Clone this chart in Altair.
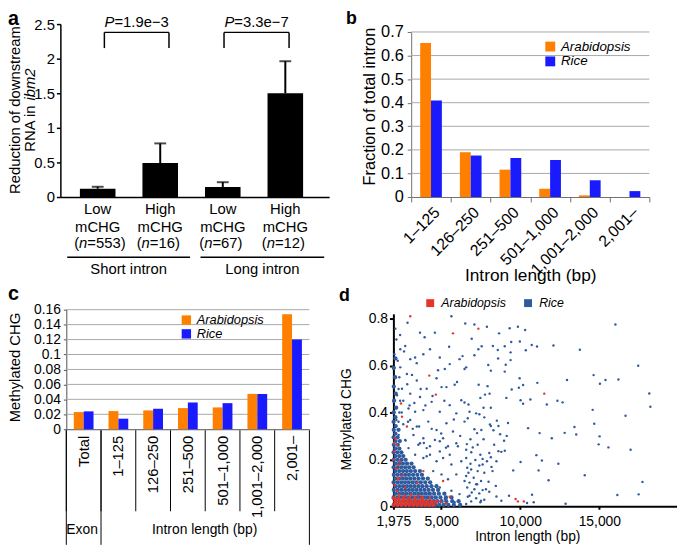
import altair as alt
import pandas as pd

FONT = "Liberation Sans"
W, H = 677, 547
ORANGE = "#FF8000"
BLUE = "#1A1AFF"
RED_D = "#E5352B"
BLUE_D = "#2F5A9E"
SPECIES = ["Arabidopsis", "Rice"]

# ---------------- panel a data ----------------
A_POS = [1, 2, 3, 4]
A_LEVEL = ["Low", "High", "Low", "High"]
A_N = [553, 16, 67, 12]
A_VALUE = [0.12, 0.49, 0.143, 1.50]
A_ERR = [0.028, 0.285, 0.071, 0.463]
A_PVAL = ["1.9e\u22123", "3.3e\u22127"]
A_BR_LEFT = [1.107, 3.02]
A_BR_RIGHT = [2.14, 4.06]
A_BR_TOP = 2.38
A_BR_BOTTOM = 2.153
A_GROUPS = ["Short intron", "Long intron"]
A_GROUP_START = [0.513, 2.644]
A_GROUP_END = [2.476, 4.622]
A_TICKS = [0, 0.5, 1, 1.5, 2, 2.5]

# ---------------- panel b data ----------------
B_CATS = ["1\u2013125", "126\u2013250", "251\u2013500", "501\u20131,000", "1,001\u20132,000", "2,001\u2013"]
B_ARAB = [0.653, 0.19, 0.116, 0.035, 0.007, 0.0]
B_RICE = [0.409, 0.176, 0.165, 0.157, 0.071, 0.025]
B_TICKS = [0, 0.1, 0.2, 0.3, 0.4, 0.5, 0.6, 0.7]

# ---------------- panel c data ----------------
C_CATS = ["Total", "1\u2013125", "126\u2013250", "251\u2013500", "501\u20131,000", "1,001\u20132,000", "2,001\u2013"]
C_ARAB = [0.023, 0.0243, 0.0252, 0.0283, 0.0292, 0.0473, 0.154]
C_RICE = [0.0239, 0.0141, 0.0274, 0.0358, 0.0349, 0.0473, 0.120]
C_TICKS = [0, 0.02, 0.04, 0.06, 0.08, 0.1, 0.12, 0.14, 0.16]

# ---------------- panel d data ----------------
D_XTICKS = [1975, 5000, 10000, 15000]
D_YTICKS = [0, 0.2, 0.4, 0.6, 0.8]

RICE_POINTS = [
    (16020, 0.775), (13770, 0.667), (17460, 0.599), (12960, 0.538), (14640, 0.559), (15040, 0.522),
    (15390, 0.538), (16210, 0.540), (18160, 0.481), (18230, 0.424), (12680, 0.443), (14580, 0.411),
    (16660, 0.386), (14680, 0.352), (13430, 0.338), (12810, 0.313), (13540, 0.306), (15020, 0.298),
    (14960, 0.264), (15580, 0.251), (16980, 0.241), (12410, 0.181), (14080, 0.132), (17730, 0.104),
    (16140, 0.048), (17490, 0.051), (12870, 0.011),
    (7100, 0.775), (7890, 0.765), (8660, 0.737), (9330, 0.759), (9850, 0.765), (10310, 0.751),
    (6930, 0.714), (9430, 0.700), (9975, 0.702), (10725, 0.687), (11060, 0.681), (12100, 0.685),
    (7560, 0.682), (7350, 0.669), (8270, 0.683), (8580, 0.666), (9020, 0.682), (10350, 0.665),
    (9390, 0.656), (7100, 0.644), (8600, 0.630), (9390, 0.623), (7975, 0.602), (9080, 0.603),
    (6580, 0.592), (8140, 0.578), (9020, 0.574), (9960, 0.546), (7370, 0.518), (7930, 0.512),
    (10180, 0.517), (11080, 0.526), (9910, 0.505), (9460, 0.498), (7770, 0.476), (8060, 0.480),
    (7475, 0.462), (9120, 0.462), (10020, 0.452), (10640, 0.455), (11680, 0.434), (12350, 0.450),
    (6475, 0.442), (6725, 0.434), (7680, 0.420), (8140, 0.420), (10180, 0.437), (6790, 0.403),
    (7210, 0.396), (7415, 0.392), (6680, 0.375), (7725, 0.379), (8520, 0.365), (9225, 0.355),
    (8080, 0.349), (8140, 0.342), (10495, 0.333), (7100, 0.328), (7540, 0.325), (8305, 0.324),
    (8620, 0.342), (11995, 0.290), (11225, 0.312), (9145, 0.300), (8725, 0.307), (7270, 0.312),
    (6850, 0.286), (7680, 0.286), (8975, 0.279), (6620, 0.265), (8350, 0.262), (6995, 0.251),
    (8620, 0.235), (8805, 0.232), (9020, 0.237), (7475, 0.220), (11020, 0.218), (8140, 0.209),
    (7620, 0.202), (7160, 0.197), (7895, 0.192), (8495, 0.192), (10020, 0.189), (11370, 0.195),
    (6850, 0.181), (7410, 0.174), (8180, 0.168), (6645, 0.164), (7305, 0.150), (9555, 0.153),
    (11160, 0.153), (6725, 0.143), (7725, 0.143), (6580, 0.129), (7055, 0.122), (7520, 0.108),
    (7995, 0.105), (11790, 0.111), (6790, 0.101), (7270, 0.094), (8455, 0.087), (6645, 0.080),
    (7100, 0.073), (7620, 0.069), (6930, 0.059), (7410, 0.055), (8040, 0.062), (8495, 0.042),
    (9290, 0.045), (10745, 0.049), (6680, 0.041), (7210, 0.034), (7725, 0.028), (10430, 0.014),
    (8805, 0.024), (6895, 0.021), (7475, 0.017), (10850, 0.017),
    (5645, 0.810), (2870, 0.782), (2100, 0.757), (3660, 0.740), (4600, 0.740), (6520, 0.779),
    (2165, 0.711), (2410, 0.669), (2040, 0.648), (2725, 0.683), (3350, 0.634), (3040, 0.627),
    (3870, 0.648), (4290, 0.669), (4910, 0.634), (5225, 0.585), (5540, 0.606), (6160, 0.627),
    (6475, 0.585), (2410, 0.592), (2830, 0.564), (1990, 0.585), (3455, 0.536), (4705, 0.546),
    (5020, 0.508), (5330, 0.508), (5850, 0.518), (4080, 0.501), (2520, 0.501), (3040, 0.480),
    (3660, 0.466), (2205, 0.473), (4395, 0.445), (5540, 0.431), (6270, 0.452), (1995, 0.445),
    (2930, 0.417), (3350, 0.403), (3870, 0.410), (4910, 0.403), (5955, 0.396), (2165, 0.368),
    (3040, 0.368), (4180, 0.361), (5330, 0.354), (6475, 0.361), (3455, 0.340), (4705, 0.325),
    (5745, 0.319), (1990, 0.325), (2305, 0.304), (3245, 0.304), (3870, 0.290), (5120, 0.290),
    (2725, 0.283), (3555, 0.262), (4290, 0.256), (6055, 0.256), (2930, 0.248), (4910, 0.234),
    (2520, 0.227), (3350, 0.220), (4080, 0.213), (5540, 0.220), (6580, 0.206),
    (4910, 0.277), (5430, 0.256), (5955, 0.269), (6580, 0.241), (7305, 0.262), (8040, 0.227),
    (4290, 0.220), (4705, 0.192), (5120, 0.206), (5645, 0.178), (6270, 0.192), (6895, 0.157),
    (7620, 0.178), (8245, 0.150), (4495, 0.150), (5020, 0.136), (5430, 0.115), (5955, 0.136),
    (6475, 0.108), (7210, 0.094), (7830, 0.073), (4910, 0.080), (5645, 0.066), (6160, 0.052),
    (6790, 0.045), (7520, 0.024), (4290, 0.052), (5225, 0.031), (5850, 0.017), (6580, 0.010),
    (3870, 0.206), (4080, 0.248), (3660, 0.269), (4600, 0.283),
    (3150, 0.56), (3700, 0.50), (4450, 0.47), (5200, 0.45), (3300, 0.44), (4000, 0.43),
    (5800, 0.37), (2900, 0.36), (3600, 0.34), (4400, 0.33), (5000, 0.31), (6200, 0.30),
    (2750, 0.28), (3900, 0.27), (5300, 0.25), (6900, 0.23), (2850, 0.52), (4800, 0.58),
    (3450, 0.61), (2650, 0.66), (5500, 0.68), (6000, 0.53), (3950, 0.72), (2400, 0.73),
    (6350, 0.64), (2600, 0.45), (2500, 0.40), (3000, 0.43), (3200, 0.33), (2600, 0.35),
    (2300, 0.36), (2350, 0.40), (2400, 0.45), (2300, 0.50), (2350, 0.55), (2250, 0.62),
]

# dense mass of rice introns near the axis corner: {methylation level: [intron lengths]}
RICE_DENSE = {
    0.006: [2000, 2240, 2480, 2720, 2960, 3200, 3440, 3680, 3920, 4160, 4400, 4640, 4880, 5150, 5450, 5800, 6200],
    0.022: [2110, 2350, 2590, 2830, 3070, 3310, 3550, 3790, 4030, 4270, 4510, 4760, 5020, 5320, 5700, 6100],
    0.038: [1990, 2230, 2470, 2710, 2950, 3190, 3430, 3670, 3910, 4150, 4400, 4660, 4950, 5300, 5650],
    0.054: [2100, 2340, 2580, 2820, 3060, 3300, 3540, 3780, 4030, 4280, 4550, 4850, 5200],
    0.070: [2000, 2240, 2480, 2720, 2960, 3200, 3440, 3690, 3940, 4200, 4480, 4800],
    0.086: [2110, 2350, 2590, 2830, 3070, 3310, 3560, 3810, 4080, 4380, 4700],
    0.102: [1990, 2230, 2470, 2710, 2950, 3200, 3450, 3710, 3990, 4300],
    0.118: [2100, 2340, 2580, 2820, 3060, 3310, 3570, 3850, 4150],
    0.134: [2000, 2240, 2480, 2720, 2960, 3220, 3490, 3780],
    0.150: [2110, 2350, 2590, 2830, 3080, 3350, 3650],
    0.166: [1990, 2230, 2470, 2720, 2970, 3250],
    0.182: [2100, 2340, 2580, 2840, 3120],
    0.198: [2000, 2240, 2490, 2750],
    0.214: [2110, 2350, 2600],
    0.230: [1990, 2230, 2480],
    0.246: [2100, 2350],
    0.262: [2000, 2250],
    0.278: [2110, 2380],
    0.294: [1990, 2240],
    0.310: [2100],
    0.326: [2000, 2300],
    0.342: [2120],
    0.360: [1990],
    0.380: [2100],
    0.400: [2000],
    0.420: [2150],
    0.450: [2020],
    0.480: [2120],
    0.510: [2000],
    0.550: [2080],
    0.590: [2000],
    0.630: [2100],
}

ARAB_POINTS = [
    (3040, 0.810), (5745, 0.737), (7350, 0.757), (4245, 0.557), (4660, 0.476), (2455, 0.438),
    (2520, 0.382), (2830, 0.340), (2100, 0.290), (2205, 0.262), (2040, 0.234), (3870, 0.150),
    (5120, 0.108), (2245, 0.115), (2725, 0.080), (5540, 0.041), (4290, 0.038), (11520, 0.480),
    (9705, 0.031), (9850, 0.021), (10225, 0.021), (2000, 0.20), (2050, 0.09), (2300, 0.12),
    (2150, 0.16), (2400, 0.19), (2350, 0.05), (2700, 0.045), (3100, 0.05), (3550, 0.045),
    (2200, 0.065), (5000, 0.020), (5300, 0.012), (2020, 0.27), (2290, 0.177), (2540, 0.13),
    (3475, 0.10),
]

ARAB_DENSE = {
    0.006: [2000, 2250, 2500, 2750, 3000, 3250, 3500, 3750, 4000, 4250, 4500],
    0.020: [2120, 2370, 2620, 2870, 3120, 3370, 3620, 3870, 4120, 4400, 4700],
    0.034: [2000, 2300, 2600, 2950, 3350, 3800],
}

# ---------------- helpers ----------------
EM = {" ": 0.278, "(": 0.333, ")": 0.333, "=": 0.584, ".": 0.278, ",": 0.278, "\u2013": 0.556,
      "\u2212": 0.584, "-": 0.333, "P": 0.667, "R": 0.722, "N": 0.722, "A": 0.667, "i": 0.222,
      "n": 0.556, "b": 0.556, "m": 0.833, "e": 0.556, "l": 0.222, "r": 0.333, "t": 0.278,
      "f": 0.278, "s": 0.5, "c": 0.5, "w": 0.722, "C": 0.722, "H": 0.722, "G": 0.778}


def text_width(s, size):
    return sum(EM.get(ch, 0.556) for ch in s) * size


ONE = pd.DataFrame({"k": [0]})


def label(s, x, y, size, angle=0, italic=False, bold=False, align="center", baseline="middle"):
    return alt.Chart(ONE).mark_text(
        text=s, font=FONT, fontSize=size, angle=angle,
        fontStyle="italic" if italic else "normal",
        fontWeight="bold" if bold else "normal",
        align=align, baseline=baseline, color="black",
    ).encode(x=alt.value(x), y=alt.value(y))


def vrich(pieces, x, cy, size):
    total = sum(text_width(t, size) for t, _ in pieces)
    start = cy + total / 2
    out, off = [], 0
    for t, it in pieces:
        out.append(label(t, x, start - off, size, angle=270, italic=it, align="left"))
        off += text_width(t, size)
    return out


# ---------------- panel a ----------------
a_df = pd.DataFrame({"pos": A_POS, "level": A_LEVEL, "n": A_N, "value": A_VALUE, "err": A_ERR})
a_df["top"] = a_df["value"] + a_df["err"]
a_df["n_rest"] = ["=" + str(n) + ")" for n in A_N]

sc_ax = alt.Scale(domain=[0.4825, 4.622], range=[53, 325], nice=False, zero=False)
sc_ay = alt.Scale(domain=[0, 2.5], range=[188, 13], nice=False)
axis_ax = alt.Axis(orient="bottom", offset=-(H - 188), labels=False, ticks=False, grid=False,
                   title=None, domainColor="black", domainWidth=1.5)
axis_ay = alt.Axis(orient="left", offset=-53, values=A_TICKS, format="~g", grid=False, title=None,
                   domainColor="black", domainWidth=1.5, tickColor="black", tickWidth=1.5, tickSize=4,
                   labelFont=FONT, labelFontSize=15, labelColor="black", labelPadding=2, labelFlush=False,
                   labelOverlap=False)


def ax_x(f):
    return alt.X(f, type="quantitative", scale=sc_ax, axis=axis_ax)


def ax_y(f):
    return alt.Y(f, type="quantitative", scale=sc_ay, axis=axis_ay)


a_bars = alt.Chart(a_df).mark_bar(size=36, color="black").encode(x=ax_x("pos"), y=ax_y("value"), y2=alt.datum(0))
a_err = alt.Chart(a_df).mark_rule(color="black", strokeWidth=2).encode(x=ax_x("pos"), y=ax_y("value"), y2="top:Q")
a_cap = alt.Chart(a_df).mark_tick(color="black", orient="horizontal", size=12, thickness=2).encode(
    x=ax_x("pos"), y=ax_y("top"))

br_df = pd.DataFrame({"left": A_BR_LEFT, "right": A_BR_RIGHT, "pval": A_PVAL})
br_df["top"] = A_BR_TOP
br_df["bottom"] = A_BR_BOTTOM
br_df["mid"] = (br_df["left"] + br_df["right"]) / 2
br_df["ptext"] = "=" + br_df["pval"]
a_br_h = alt.Chart(br_df).mark_rule(color="black", strokeWidth=1.5).encode(x=ax_x("left"), x2="right:Q", y=ax_y("top"))
a_br_l = alt.Chart(br_df).mark_rule(color="black", strokeWidth=1.5).encode(x=ax_x("left"), y=ax_y("bottom"), y2="top:Q")
a_br_r = alt.Chart(br_df).mark_rule(color="black", strokeWidth=1.5).encode(x=ax_x("right"), y=ax_y("bottom"), y2="top:Q")
p_w = text_width("P", 15)
rest_w = text_width("=1.9e\u22123", 15)
p_shift = (p_w + rest_w) / 2 - p_w
a_p1 = alt.Chart(br_df).mark_text(text="P", font=FONT, fontSize=15, fontStyle="italic", align="right",
                                  dx=-p_shift, color="black").encode(x=ax_x("mid"), y=alt.value(11))
a_p2 = alt.Chart(br_df).mark_text(font=FONT, fontSize=15, align="left", dx=-p_shift, color="black").encode(
    x=ax_x("mid"), y=alt.value(11), text="ptext:N")

a_lvl = alt.Chart(a_df).mark_text(font=FONT, fontSize=15, color="black").encode(
    x=ax_x("pos"), y=alt.value(200), text="level:N")
a_mchg = alt.Chart(a_df).mark_text(text="mCHG", font=FONT, fontSize=15, color="black").encode(
    x=ax_x("pos"), y=alt.value(218))
n_shift = 10.5
a_n0 = alt.Chart(a_df).mark_text(text="(", font=FONT, fontSize=15, align="right",
                                 dx=-n_shift - text_width("n", 15), color="black").encode(x=ax_x("pos"), y=alt.value(235))
a_n1 = alt.Chart(a_df).mark_text(text="n", font=FONT, fontSize=15, fontStyle="italic", align="right",
                                 dx=-n_shift, color="black").encode(x=ax_x("pos"), y=alt.value(235))
a_n2 = alt.Chart(a_df).mark_text(font=FONT, fontSize=15, align="left", dx=-n_shift, color="black").encode(
    x=ax_x("pos"), y=alt.value(235), text="n_rest:N")

grp_df = pd.DataFrame({"name": A_GROUPS, "start": A_GROUP_START, "end": A_GROUP_END})
grp_df["mid"] = (grp_df["start"] + grp_df["end"]) / 2
a_under = alt.Chart(grp_df).mark_rule(color="black", strokeWidth=1.5).encode(
    x=ax_x("start"), x2="end:Q", y=alt.value(249))
a_grp = alt.Chart(grp_df).mark_text(font=FONT, fontSize=15, color="black").encode(
    x=ax_x("mid"), y=alt.value(261), text="name:N")

panel_a = alt.layer(a_bars, a_err, a_cap, a_br_h, a_br_l, a_br_r, a_p1, a_p2,
                    a_lvl, a_mchg, a_n0, a_n1, a_n2, a_under, a_grp)

# ---------------- panel b ----------------
b_df = pd.DataFrame({
    "cat": B_CATS * 2,
    "species": [SPECIES[0]] * len(B_CATS) + [SPECIES[1]] * len(B_CATS),
    "value": B_ARAB + B_RICE,
})
sc_bx = alt.Scale(domain=B_CATS, range=[408, 649], paddingInner=0, paddingOuter=0)
axis_bx = alt.Axis(orient="bottom", offset=-(H - 188), title=None, labelAngle=-45, labelFont=FONT,
                   labelFontSize=16, labelColor="black", tickBand="extent", tickSize=5,
                   tickColor="#707070", domainColor="#707070", labelOverlap=False, labelPadding=2, grid=False)
sc_by = alt.Scale(domain=[0, 0.7], range=[188, 21], nice=False)
axis_by = alt.Axis(orient="left", offset=-408, values=B_TICKS, format="~g", title=None, grid=False,
                   domainColor="#707070", tickColor="#707070", tickSize=4, labelFont=FONT,
                   labelFontSize=16.5, labelColor="black", labelPadding=4, labelFlush=False,
                   labelOverlap=False)
leg_b = alt.Legend(orient="none", legendX=542, legendY=29, title=None, symbolType="square", symbolSize=100,
                   symbolStrokeWidth=0, labelFont=FONT, labelFontSize=13.5, labelFontStyle="italic",
                   labelColor="black", rowPadding=0, labelOffset=4)
b_grid = alt.Chart(pd.DataFrame({"t": B_TICKS[1:]})).mark_rule(color="#a8a8a8", strokeWidth=1).encode(
    y=alt.Y("t:Q", scale=sc_by, axis=axis_by), x=alt.value(408), x2=alt.value(649))
b_bars = alt.Chart(b_df).mark_bar().encode(
    x=alt.X("cat:N", scale=sc_bx, axis=axis_bx),
    xOffset=alt.XOffset("species:N", sort=SPECIES, scale=alt.Scale(paddingInner=0, paddingOuter=0.83)),
    y=alt.Y("value:Q", scale=sc_by, axis=axis_by),
    color=alt.Color("species:N", scale=alt.Scale(domain=SPECIES, range=[ORANGE, BLUE]), legend=leg_b),
)
panel_b = alt.layer(b_grid, b_bars)

# ---------------- panel c ----------------
c_df = pd.DataFrame({
    "cat": C_CATS * 2,
    "species": [SPECIES[0]] * len(C_CATS) + [SPECIES[1]] * len(C_CATS),
    "value": C_ARAB + C_RICE,
})
sc_cx = alt.Scale(domain=C_CATS, range=[59, 305], paddingInner=0, paddingOuter=0)
axis_cx = alt.Axis(orient="bottom", offset=-(H - 423), title=None, labelAngle=270, labelFont=FONT,
                   labelFontSize=15, labelColor="black", ticks=False, domainColor="#505050",
                   labelOverlap=False, labelPadding=6, grid=False)
sc_cy = alt.Scale(domain=[0, 0.16], range=[423, 302], nice=False)
axis_cy = alt.Axis(orient="left", offset=-59, values=C_TICKS, format="~g", title=None, grid=False,
                   domainColor="#505050", tickColor="#505050", tickSize=3, labelFont=FONT,
                   labelFontSize=14, labelColor="black", labelPadding=3, labelFlush=False,
                   labelOverlap=False)
leg_c = alt.Legend(orient="none", legendX=174, legendY=306, title=None, symbolType="square", symbolSize=90,
                   symbolStrokeWidth=0, labelFont=FONT, labelFontSize=13, labelFontStyle="italic",
                   labelColor="black", rowPadding=0, labelOffset=4)
c_grid = alt.Chart(pd.DataFrame({"t": C_TICKS[1:]})).mark_rule(color="#a8a8a8", strokeWidth=1).encode(
    y=alt.Y("t:Q", scale=sc_cy, axis=axis_cy), x=alt.value(59), x2=alt.value(305))
c_bars = alt.Chart(c_df).mark_bar().encode(
    x=alt.X("cat:N", scale=sc_cx, axis=axis_cx),
    xOffset=alt.XOffset("species:N", sort=SPECIES, scale=alt.Scale(paddingInner=0, paddingOuter=0.76)),
    y=alt.Y("value:Q", scale=sc_cy, axis=axis_cy),
    color=alt.Color("species:N", scale=alt.Scale(domain=SPECIES, range=[ORANGE, BLUE]), legend=leg_c),
)
sep_df = pd.DataFrame({"cat": C_CATS})
c_sep = alt.Chart(sep_df).mark_rule(color="black", strokeWidth=1).encode(
    x=alt.X("cat:N", scale=sc_cx, axis=axis_cx, bandPosition=0), y=alt.value(424), y2=alt.value(506))
c_sep_long = alt.Chart(pd.DataFrame({"cat": C_CATS[:2]})).mark_rule(color="black", strokeWidth=1).encode(
    x=alt.X("cat:N", scale=sc_cx, axis=axis_cx, bandPosition=0), y=alt.value(424), y2=alt.value(540))
c_sep_end = alt.Chart(pd.DataFrame({"cat": C_CATS[-1:]})).mark_rule(color="black", strokeWidth=1).encode(
    x=alt.X("cat:N", scale=sc_cx, axis=axis_cx, bandPosition=1), y=alt.value(424), y2=alt.value(540))
panel_c = alt.layer(c_grid, c_bars, c_sep, c_sep_long, c_sep_end)

# ---------------- panel d ----------------
def dense_rows(d, sp):
    rows = []
    for yv, xs in d.items():
        for xv in xs:
            rows.append({"len": xv, "mchg": yv, "species": sp})
    return pd.DataFrame(rows)


rice_sparse = pd.DataFrame([{"len": x, "mchg": y, "species": "Rice"} for x, y in RICE_POINTS])
arab_sparse = pd.DataFrame([{"len": x, "mchg": y, "species": "Arabidopsis"} for x, y in ARAB_POINTS])
rice_dense = dense_rows(RICE_DENSE, "Rice")
arab_dense = dense_rows(ARAB_DENSE, "Arabidopsis")

sc_dx = alt.Scale(domain=[1975, 19915], range=[390, 677], nice=False, zero=False)
axis_dx = alt.Axis(orient="bottom", offset=-(H - 501), values=D_XTICKS, format=",d", title=None, grid=False,
                   domainColor="black", domainWidth=2, tickColor="black", tickWidth=2, tickSize=3,
                   labelFont=FONT, labelFontSize=14, labelColor="black", labelFlush=False,
                   labelOverlap=False, labelPadding=5)
sc_dy = alt.Scale(domain=[0, 0.82], range=[501, 306.25], nice=False)
axis_dy = alt.Axis(orient="left", offset=-390, values=D_YTICKS, format="~g", title=None, grid=False,
                   domainColor="black", domainWidth=2, tickColor="black", tickWidth=2, tickSize=4,
                   labelFont=FONT, labelFontSize=14, labelColor="black", labelFlush=False, labelPadding=2,
                   labelOverlap=False)
leg_d = alt.Legend(orient="none", legendX=421, legendY=289, direction="horizontal", title=None,
                   symbolType="square", symbolSize=64, symbolStrokeWidth=0, symbolOpacity=1,
                   labelFont=FONT, labelFontSize=12.5, labelFontStyle="italic", labelColor="black",
                   columnPadding=16, labelOffset=5)


def d_layer(df, size):
    return alt.Chart(df).mark_circle(size=size, opacity=1).encode(
        x=alt.X("len:Q", scale=sc_dx, axis=axis_dx),
        y=alt.Y("mchg:Q", scale=sc_dy, axis=axis_dy),
        color=alt.Color("species:N", scale=alt.Scale(domain=SPECIES, range=[RED_D, BLUE_D]), legend=leg_d),
    )


panel_d = alt.layer(d_layer(rice_dense, 19), d_layer(rice_sparse, 6),
                    d_layer(arab_dense, 17), d_layer(arab_sparse, 6))

# ---------------- annotations ----------------
notes = [
    label("a", 0, 14, 20, bold=True, align="left", baseline="alphabetic"),
    label("b", 342, 13, 18, bold=True, align="left", baseline="alphabetic"),
    label("c", 0, 292, 20, bold=True, align="left", baseline="alphabetic"),
    label("d", 335, 293, 18, bold=True, align="left", baseline="alphabetic"),
    label("Reduction of downstream", 7, 100, 15, angle=270),
    *vrich([("RNA in ", False), ("ibm2", True)], 22, 100, 15),
    label("Fraction of total intron", 366.5, 96.5, 16.5, angle=270),
    label("Intron length (bp)", 529, 268, 17.5),
    label("Methylated CHG", 7, 360.5, 15, angle=270),
    label("Exon", 75, 525, 14),
    label("Intron length (bp)", 199, 525, 14),
    label("Methylated CHG", 343.5, 413, 14, angle=270),
    label("Intron length (bp)", 526, 532, 14),
]

chart = alt.layer(panel_a, panel_b, panel_c, panel_d, *notes).resolve_scale(
    x="independent", y="independent", color="independent", xOffset="independent"
).resolve_axis(x="independent", y="independent").resolve_legend(color="independent").properties(
    width=W, height=H, padding=0, autosize=alt.AutoSizeParams(type="none")
).configure_view(stroke=None)

chart.save("out.html", embed_options={"renderer": "svg", "actions": False})
